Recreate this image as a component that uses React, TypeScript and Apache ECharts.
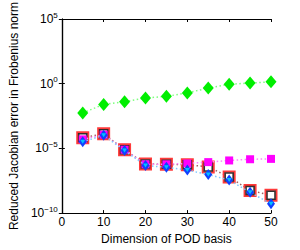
import React, { useEffect, useRef } from "react";
import * as echarts from "echarts";

const dims = [5, 10, 15, 20, 25, 30, 35, 40, 45, 50];
const greenVals = [5.5e-3, 2.5e-2, 4e-2, 7.8e-2, 0.105, 0.195, 0.46, 0.91, 1.12, 1.41];
const redVals = [6.6e-5, 1.35e-4, 7.9e-6, 6.3e-7, 5.9e-7, 5.5e-7, 3.7e-7, 6.2e-8, 5.6e-9, 2.4e-9];
const magentaVals = [5e-5, 1.15e-4, 7.9e-6, 5.9e-7, 5.9e-7, 6.9e-7, 8.7e-7, 1.17e-6, 1.45e-6, 1.55e-6];
const blueVals = [3.3e-5, 1.02e-4, 6.8e-6, 4.7e-7, 3.5e-7, 2.1e-7, 9.5e-8, 3.6e-8, 4e-9, 5.2e-10];
const xTicks = [0, 10, 20, 30, 40, 50];
const yExponents = [-10, -5, 0, 5];

const FONT = "Liberation Sans, Arial, sans-serif";

function pairs(vals: number[]) {
  return dims.map((d, i) => [d, vals[i]]);
}

export default function App() {
  const ref = useRef<HTMLDivElement>(null);
  useEffect(() => {
    const chart = echarts.init(ref.current!, null, { renderer: "svg" });
    const grid = { left: 45, top: 19, right: 29, bottom: 28 };
    const dotted = (color: string) => ({ color, width: 1.5, type: [1.5, 2.5] as any });
    chart.setOption({
      animation: false,
      backgroundColor: "#fff",
      textStyle: { fontFamily: FONT },
      grid,
      xAxis: [
        {
          type: "value",
          min: 0,
          max: 50,
          interval: 10,
          position: "bottom",
          name: "Dimension of POD basis",
          nameLocation: "middle",
          nameGap: 16,
          nameTextStyle: { fontSize: 12, color: "#000", fontFamily: FONT },
          axisLine: { lineStyle: { color: "#000", width: 1.2 } },
          axisTick: { inside: true, length: 3, lineStyle: { color: "#000" } },
          axisLabel: { fontSize: 12, color: "#000", margin: 3, fontFamily: FONT,
            formatter: (v: number) => (xTicks.includes(v) ? String(v) : "") },
          splitLine: { show: false },
        },
        {
          type: "value",
          min: 0,
          max: 50,
          interval: 10,
          position: "top",
          axisLine: { lineStyle: { color: "#000", width: 1.2 } },
          axisTick: { inside: true, length: 3, lineStyle: { color: "#000" } },
          axisLabel: { show: false },
          splitLine: { show: false },
        },
      ],
      yAxis: [
        {
          type: "log",
          logBase: 10,
          min: 1e-10,
          max: 1e5,
          interval: 5,
          position: "left",
          name: "Reduced Jacobian error in Frobenius norm",
          nameLocation: "middle",
          nameRotate: 90,
          nameGap: 32,
          nameTextStyle: { fontSize: 12, color: "#000", fontFamily: FONT },
          axisLine: { lineStyle: { color: "#000", width: 1.2 } },
          axisTick: { inside: true, length: 3, lineStyle: { color: "#000" } },
          axisLabel: {
            margin: 4,
            formatter: (v: number) => {
              const e = Math.round(Math.log10(v));
              if (!yExponents.includes(e)) return "";
              const s = e < 0 ? "\u2212" + Math.abs(e) : String(e);
              return "{a|10}{b|" + s + "}";
            },
            rich: {
              a: { fontSize: 12, color: "#000", fontFamily: FONT },
              b: { fontSize: 8, color: "#000", fontFamily: FONT, padding: [0, 0, 8, 0] },
            },
          },
          splitLine: { show: false },
        },
        {
          type: "log",
          logBase: 10,
          min: 1e-10,
          max: 1e5,
          interval: 5,
          position: "right",
          axisLine: { lineStyle: { color: "#000", width: 1.2 } },
          axisTick: { inside: true, length: 3, lineStyle: { color: "#000" } },
          axisLabel: { show: false },
          splitLine: { show: false },
        },
      ],
      series: [
        {
          type: "line",
          data: pairs(greenVals),
          symbol: "diamond",
          symbolSize: [11, 13],
          lineStyle: dotted("#7dff7d"),
          itemStyle: { color: "#00ee00" },
          z: 2,
        },
        {
          type: "line",
          data: pairs(redVals),
          symbol: "rect",
          symbolSize: 11,
          lineStyle: dotted("#a06060"),
          itemStyle: { color: "#ffffff", borderColor: "#ff3a3a", borderWidth: 2 },
          z: 3,
        },
        {
          type: "scatter",
          data: pairs(redVals),
          symbol: "rect",
          symbolSize: 8,
          itemStyle: { color: "#ffffff", borderColor: "#000", borderWidth: 1.6 },
          z: 4,
        },
        {
          type: "line",
          data: pairs(magentaVals),
          symbol: "rect",
          symbolSize: 8,
          lineStyle: dotted("#ff80ff"),
          itemStyle: { color: "#ff00ff" },
          z: 5,
        },
        {
          type: "line",
          data: pairs(blueVals),
          symbol: "diamond",
          symbolSize: [8, 11],
          lineStyle: dotted("#80c8ff"),
          itemStyle: { color: "#1040ff" },
          z: 6,
        },
        {
          type: "scatter",
          data: pairs(blueVals),
          symbol: "path://M0,0 L10,0 L5,8 Z",
          symbolSize: [5, 4],
          itemStyle: { color: "#00e0ff" },
          z: 7,
        },
      ],
    });
    return () => chart.dispose();
  }, []);
  return (
    <div
      ref={ref}
      style={{ position: "fixed", left: 0, top: 0, width: 300, height: 250, background: "#fff" }}
    />
  );
}
